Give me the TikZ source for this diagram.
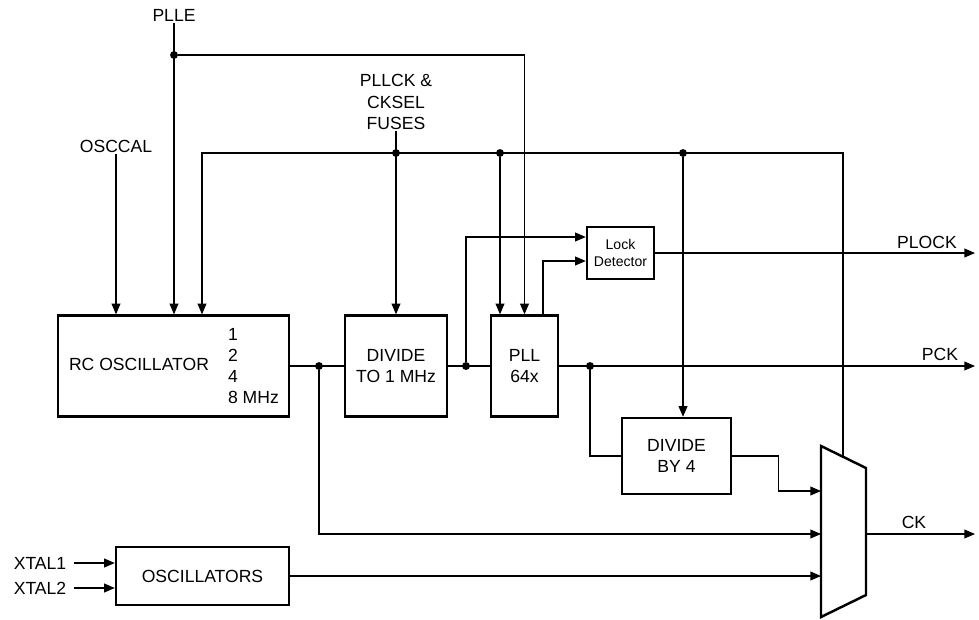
\documentclass[tikz,border=0pt]{standalone}
\usepackage{fontspec}
\setmainfont{Liberation Sans}
\usetikzlibrary{arrows.meta,calc}

\begin{document}
\begin{tikzpicture}[x=0.02cm, y=-0.02cm,
  wire/.style={line width=0.6pt},
  sig/.style={wire, -{Triangle[length=6pt,width=5pt]}},
  blk/.style={draw, line width=1.4pt, inner sep=0pt, align=center},
  junc/.style={circle, fill, inner sep=0pt, minimum size=4.5pt},
  lbl/.style={inner sep=1pt, align=center}]
  \useasboundingbox (0,0) rectangle (979,619);

  % blocks
  \node[blk, minimum width=4.62cm, minimum height=2.02cm] (rc) at (173.5,366) {};
  \node[lbl] (rctxt) at (139,364) {RC OSCILLATOR};
  \node[lbl, anchor=west, align=left] (freq) at (226,366) {1\\2\\4\\8 MHz};
  \node[blk, minimum width=2.04cm, minimum height=2.02cm] (div) at (396,366) {DIVIDE\\TO 1 MHz};
  \node[blk, minimum width=1.34cm, minimum height=2.02cm] (pll) at (524.5,366) {PLL\\64x};
  \node[blk, minimum width=1.34cm, minimum height=1.04cm, font=\footnotesize] (lock) at (620.5,253) {Lock\\Detector};
  \node[blk, minimum width=2.18cm, minimum height=1.52cm] (div4) at (676.5,456) {DIVIDE\\BY 4};
  \node[blk, minimum width=3.46cm, minimum height=1.16cm] (osc) at (202.5,576) {OSCILLATORS};

  % clock multiplexer
  \coordinate (m1) at (821,446);
  \coordinate (m2) at (866,468);
  \coordinate (m3) at (866,595);
  \coordinate (m4) at (821,617);
  \draw[line width=1.4pt, line join=miter] (m1) -- (m2) -- (m3) -- (m4) -- cycle;
  \coordinate (muxtop) at (843,457);
  \coordinate (in1) at (821,491);
  \coordinate (in2) at (821,534);
  \coordinate (in3) at (821,576);
  \coordinate (out) at (866,534);

  % labels
  \node[lbl] (plle) at (174,15) {PLLE};
  \node[lbl] (osccal) at (116,146) {OSCCAL};
  \node[lbl] (fuses) at (396,102) {PLLCK \&\\CKSEL\\FUSES};
  \node[lbl] (xtal1) at (40,563) {XTAL1};
  \node[lbl] (xtal2) at (40,588) {XTAL2};
  \node[lbl] (plocktxt) at (927,242) {PLOCK};
  \node[lbl] (pcktxt) at (940,354) {PCK};
  \node[lbl] (cktxt) at (914,522) {CK};
  \coordinate (plock) at (975,253);
  \coordinate (pck) at (975,366);
  \coordinate (ck) at (975,534);
  \coordinate (busL) at (202,153);
  \coordinate (busR) at (843,153);

  % junctions
  \node[junc] (jplle) at (174,55) {};
  \node[junc] (jfuse) at (396,153) {};
  \node[junc] (jpll) at (500,153) {};
  \node[junc] (jdiv4) at (683,153) {};
  \node[junc] (jrc) at (319,366) {};
  \node[junc] (jdiv) at (466,366) {};
  \node[junc] (jpck) at (590,366) {};

  % control lines
  \draw[sig] (plle.south) -- (plle.south |- rc.north);
  \draw[sig] (osccal.south) -- (osccal.south |- rc.north);
  \draw[sig] (jplle) -| (pll.north);
  \draw[sig] (muxtop) -- (busR) -- (busL) -- (busL |- rc.north);
  \draw[sig] (fuses.south) -- (fuses.south |- div.north);
  \draw[sig] (jpll) -- (jpll |- pll.north);
  \draw[sig] (jdiv4) -- (jdiv4 |- div4.north);

  % clock path
  \draw[wire] (rc.east) -- (div.west);
  \draw[wire] (div.east) -- (pll.west);
  \draw[sig] (jdiv) |- ($(lock.west)+(0,-16)$);
  \draw[sig] ($(pll.north)+(18.5,0)$) |- ($(lock.west)+(0,8)$);
  \draw[sig] (lock.east) -- (plock);
  \draw[sig] (pll.east) -- (pck);
  \draw[wire] (jpck) |- (div4.west);
  \draw[sig] (div4.east) -- ++(46,0) |- (in1);
  \draw[sig] (jrc) |- (in2);
  \draw[sig] (osc.east) -- (osc.east -| in3);
  \draw[sig] (out) -- (ck);
  \draw[sig] ($(xtal1.east)+(6,0)$) -- (xtal1 -| osc.west);
  \draw[sig] ($(xtal2.east)+(6,0)$) -- (xtal2 -| osc.west);
\end{tikzpicture}
\end{document}
